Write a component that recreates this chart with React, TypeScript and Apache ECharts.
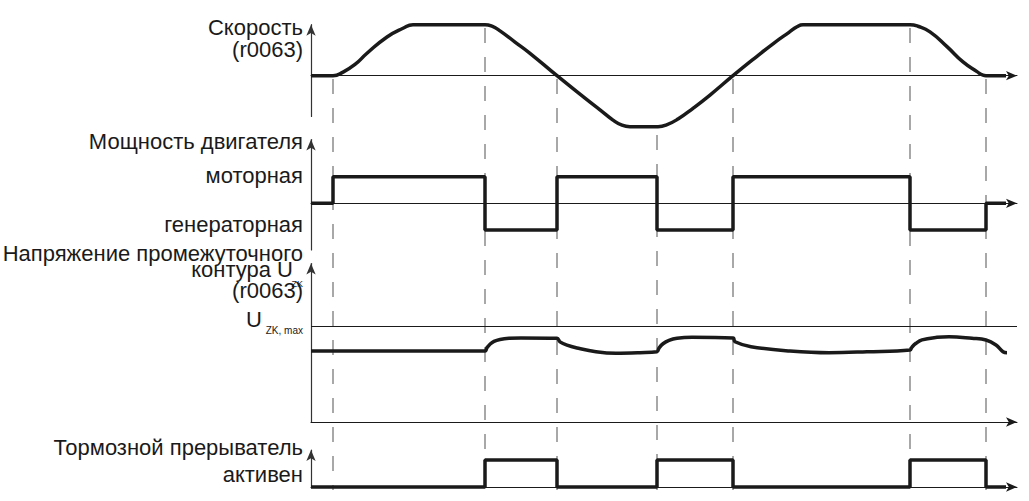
import React, { useEffect, useRef } from "react";
import * as echarts from "echarts";

// time axis (arbitrary units), switching instants
const EVENT_TIMES = [22, 174, 246, 346, 422, 599, 675];
const T_MAX = 706;

// Speed (r0063), normalised to max speed
const SPEED_T = [0, 22, 32, 44, 56, 76, 92, 102, 174, 181, 189, 204, 219, 246, 274, 289, 302, 311, 319, 347, 355, 367, 382, 399, 422, 446, 463, 478, 486, 492, 599, 607, 619, 636, 652, 666, 672, 675, 695];
const SPEED_V = [0, 0, 0.07, 0.22, 0.44, 0.76, 0.93, 1, 1, 0.97, 0.88, 0.66, 0.44, 0, -0.44, -0.67, -0.87, -0.97, -1, -1, -0.97, -0.85, -0.64, -0.38, 0, 0.38, 0.64, 0.85, 0.96, 1, 1, 0.97, 0.86, 0.57, 0.27, 0.08, 0.01, 0, 0];

// Motor power: 1 = motoring, -1 = generating, 0 = standstill (value valid from time on)
const POWER_T = [0, 22, 174, 246, 346, 422, 599, 675, 695];
const POWER_V = [0, 1, -1, 1, -1, 1, -1, 0, 0];

// DC-link voltage, normalised to U_ZK,max
const VDC_T = [0, 174, 176, 179, 183, 189, 198, 210, 246, 249, 256, 266, 285, 305, 329, 346, 348, 352, 358, 366, 381, 422, 424, 440, 479, 518, 556, 599, 601, 605, 611, 626, 638, 661, 675, 685, 692, 696];
const VDC_V = [0.74, 0.74, 0.775, 0.81, 0.84, 0.86, 0.872, 0.875, 0.872, 0.835, 0.8, 0.771, 0.732, 0.716, 0.722, 0.732, 0.77, 0.815, 0.85, 0.872, 0.882, 0.875, 0.836, 0.784, 0.74, 0.722, 0.732, 0.75, 0.78, 0.82, 0.856, 0.882, 0.889, 0.872, 0.854, 0.802, 0.732, 0.722];
const VDC_MAX = 1;

// Braking chopper active: 1 = active
const CHOPPER_T = [0, 174, 246, 346, 422, 599, 675, 695];
const CHOPPER_V = [0, 1, 0, 1, 0, 1, 0, 0];

// Guide lines: top of each dashed line (page rows) and common bottom
const GUIDE_TOP = [79, 28, 79, 135, 79, 28, 79];
const GUIDE_BOTTOM = 490;

const INK = "#1a1a1a";
const AXIS = "#333333";
const FONT = "'Liberation Sans', Arial, sans-serif";
const FS = 22;

const zip = (xs: number[], ys: number[]) => xs.map((x, i) => [x, ys[i]]);

export default function App() {
  const ref = useRef<HTMLDivElement>(null);
  useEffect(() => {
    if (!ref.current) return;
    const chart = echarts.init(ref.current, undefined, { renderer: "svg" });

    const L = 311;
    const W = 706;
    const grids = [
      { left: 0, top: 0, width: 1029, height: 501 }, // overlay
      { left: L, width: W, top: 24.7, height: 91.8 }, // speed
      { left: L, width: W, top: 139.5, height: 110.4 }, // power
      { left: L, width: W, top: 263.6, height: 158.4 }, // Udc
      { left: L, width: W, top: 450, height: 37 }, // chopper
    ];
    const yRanges = [
      null,
      [-0.8, 1],
      [-1.75, 2.4],
      [0, 1.65],
      [0, 1.37],
    ];

    const xAxis: any[] = [];
    const yAxis: any[] = [];
    grids.forEach((g, i) => {
      if (i === 0) {
        xAxis.push({ gridIndex: 0, type: "value", min: -L, max: 1029 - L, show: false });
        yAxis.push({ gridIndex: 0, type: "value", min: 0, max: 501, inverse: true, show: false });
        return;
      }
      xAxis.push({
        gridIndex: i,
        type: "value",
        min: 0,
        max: T_MAX,
        axisLine: { show: true, onZero: true, symbol: ["none", "arrow"], symbolSize: [7, 11], lineStyle: { color: INK, width: 1 } },
        axisTick: { show: false },
        axisLabel: { show: false },
        splitLine: { show: false },
      });
      const r = yRanges[i] as number[];
      yAxis.push({
        gridIndex: i,
        type: "value",
        min: r[0],
        max: r[1],
        axisLine: { show: true, onZero: false, symbol: ["none", "arrow"], symbolSize: [7, 11], lineStyle: { color: AXIS, width: 1.2 } },
        axisTick: { show: false },
        axisLabel: { show: false },
        splitLine: { show: false },
      });
    });

    const thick = { color: INK, width: 3.5 };
    const series: any[] = [];
    EVENT_TIMES.forEach((t, i) => {
      series.push({
        type: "line",
        xAxisIndex: 0,
        yAxisIndex: 0,
        data: [[t, GUIDE_TOP[i]], [t, GUIDE_BOTTOM]],
        symbol: "none",
        silent: true,
        z: 1,
        lineStyle: { color: "#7a7a7a", width: 1.3, type: [15, 14] },
      });
    });
    series.push({
      type: "line", xAxisIndex: 1, yAxisIndex: 1, data: zip(SPEED_T, SPEED_V),
      smooth: 0.5, symbol: "none", clip: false, z: 5, lineStyle: thick,
    });
    series.push({
      type: "line", xAxisIndex: 2, yAxisIndex: 2, data: zip(POWER_T, POWER_V),
      step: "end", symbol: "none", clip: false, z: 5, lineStyle: thick,
    });
    series.push({
      type: "line", xAxisIndex: 3, yAxisIndex: 3, data: zip(VDC_T, VDC_V),
      smooth: 0.4, symbol: "none", clip: false, z: 5, lineStyle: thick,
      markLine: {
        silent: true, symbol: "none", label: { show: false },
        lineStyle: { color: INK, width: 1.2, type: "solid" },
        data: [{ yAxis: VDC_MAX }],
      },
    });
    series.push({
      type: "line", xAxisIndex: 4, yAxisIndex: 4, data: zip(CHOPPER_T, CHOPPER_V),
      step: "end", symbol: "none", clip: false, z: 5, lineStyle: thick,
    });

    const txt = (text: string, x: number, baseline: number, size = FS) => ({
      type: "text",
      z: 10,
      style: {
        text, x, y: baseline - size * 0.34,
        align: "right", textAlign: "right",
        verticalAlign: "middle", textVerticalAlign: "middle",
        font: `${size}px ${FONT}`, fill: INK,
      },
    });

    chart.setOption({
      animation: false,
      backgroundColor: "#ffffff",
      grid: grids,
      xAxis,
      yAxis,
      series,
      graphic: [
        txt("Скорость", 303, 35),
        txt("(r0063)", 303, 57),
        txt("Мощность двигателя", 303, 149),
        txt("моторная", 303, 183),
        txt("генераторная", 303, 232),
        txt("Напряжение промежуточного", 303, 261),
        txt("контура U", 293, 277),
        txt("ZK", 303, 287, 9),
        txt("(r0063)", 303, 298),
        txt("U", 262, 327),
        txt("ZK, max", 303, 334, 10),
        txt("Тормозной прерыватель", 303, 455),
        txt("активен", 303, 482),
      ],
    });
    return () => chart.dispose();
  }, []);
  return <div ref={ref} style={{ position: "absolute", left: 0, top: 0, width: 1029, height: 501 }} />;
}
